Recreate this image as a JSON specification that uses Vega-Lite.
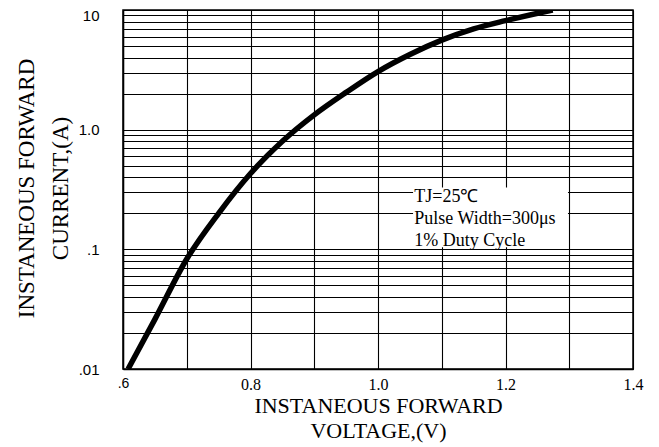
{
  "$schema": "https://vega.github.io/schema/vega-lite/v6.json",
  "width": 510,
  "height": 359,
  "autosize": {"type": "none"},
  "padding": {"left": 123, "top": 10, "right": 26, "bottom": 78},
  "background": "white",
  "config": {
    "view": {"stroke": "black", "strokeWidth": 1.5},
    "axis": {
      "gridColor": "black",
      "gridWidth": 1.1,
      "gridOpacity": 1,
      "domainColor": "black",
      "domainWidth": 1.5,
      "ticks": false,
      "labelColor": "black",
      "titleColor": "black",
      "labelOverlap": false,
      "labelFlush": false,
      "titleFontWeight": "normal"
    }
  },
  "datasets": {
    "curve": [
      {"v": 0.608, "i": 0.01},
      {"v": 0.65, "i": 0.026},
      {"v": 0.7, "i": 0.083},
      {"v": 0.75, "i": 0.2},
      {"v": 0.8, "i": 0.43},
      {"v": 0.85, "i": 0.8},
      {"v": 0.9, "i": 1.33},
      {"v": 0.95, "i": 2.05},
      {"v": 1.0, "i": 3.06},
      {"v": 1.05, "i": 4.25},
      {"v": 1.1, "i": 5.6},
      {"v": 1.15, "i": 6.95},
      {"v": 1.2, "i": 8.15},
      {"v": 1.274, "i": 10.0}
    ],
    "box": [
      {"v": 1.055, "v2": 1.298, "i": 0.1039, "i2": 0.3285}
    ],
    "notes": [
      {"v": 1.057, "i": 0.251, "label": "TJ=25℃"},
      {"v": 1.057, "i": 0.1616, "label": "Pulse Width=300μs"},
      {"v": 1.057, "i": 0.106, "label": "1% Duty Cycle"}
    ]
  },
  "layer": [
    {
      "data": {"name": "curve"},
      "mark": {"type": "line", "color": "black", "strokeWidth": 5.5, "interpolate": "monotone", "clip": true},
      "encoding": {
        "x": {
          "field": "v",
          "type": "quantitative",
          "scale": {"domain": [0.6, 1.4], "nice": false, "zero": false},
          "axis": {
            "values": [0.6, 0.7, 0.8, 0.9, 1.0, 1.1, 1.2, 1.3, 1.4],
            "grid": true,
            "labelExpr": "indexof(['0.8','1.0','1.2','1.4'], format(datum.value,'.1f')) >= 0 ? format(datum.value,'.1f') : (datum.value < 0.65 ? '.6' : '')",
            "labelFont": {"condition": {"test": "datum.value < 0.65", "value": "Liberation Sans"}, "value": "Liberation Serif"},
            "labelFontSize": {"condition": {"test": "datum.value < 0.65", "value": 14}, "value": 16},
            "labelPadding": 7,
            "labelAlign": "center",
            "labelBaseline": "top",
            "title": ["INSTANEOUS FORWARD", "VOLTAGE,(V)"],
            "titleFont": "Liberation Serif",
            "titleFontSize": 22,
            "titleLineHeight": 25.5,
            "titleAlign": "center",
            "titleBaseline": "alphabetic",
            "titleAnchor": "middle",
            "titleX": 255,
            "titleY": 43
          }
        },
        "y": {
          "field": "i",
          "type": "quantitative",
          "scale": {"type": "log", "domain": [0.01, 10], "nice": false, "zero": false},
          "axis": {
            "values": [0.01, 0.02, 0.03, 0.04, 0.05, 0.06, 0.07, 0.08, 0.09, 0.1, 0.2, 0.3, 0.4, 0.5, 0.6, 0.7, 0.8, 0.9, 1, 2, 3, 4, 5, 6, 7, 8, 9, 10],
            "grid": true,
            "labelExpr": "datum.value == 10 ? '10' : (datum.value == 1 ? '1.0' : (datum.value == 0.1 ? '.1' : (datum.value == 0.01 ? '.01' : '')))",
            "labelFont": "Liberation Sans",
            "labelFontSize": 15,
            "labelPadding": 24,
            "labelOffset": {"condition": {"test": "datum.value == 10", "value": 5}, "value": 0},
            "title": ["INSTANEOUS FORWARD", "CURRENT,(A)"],
            "titleFont": "Liberation Serif",
            "titleFontSize": 23,
            "titleLineHeight": 34,
            "titleAngle": -90,
            "titleAlign": "center",
            "titleBaseline": "alphabetic",
            "titleX": -90,
            "titleY": 178
          }
        }
      }
    },
    {
      "data": {"name": "box"},
      "mark": {"type": "rect", "fill": "white", "stroke": null},
      "encoding": {
        "x": {"field": "v", "type": "quantitative"},
        "x2": {"field": "v2"},
        "y": {"field": "i", "type": "quantitative"},
        "y2": {"field": "i2"}
      }
    },
    {
      "data": {"name": "notes"},
      "mark": {"type": "text", "align": "left", "baseline": "alphabetic", "font": "Liberation Serif", "fontSize": 18, "color": "black"},
      "encoding": {
        "x": {"field": "v", "type": "quantitative"},
        "y": {"field": "i", "type": "quantitative"},
        "text": {"field": "label"}
      }
    }
  ]
}
